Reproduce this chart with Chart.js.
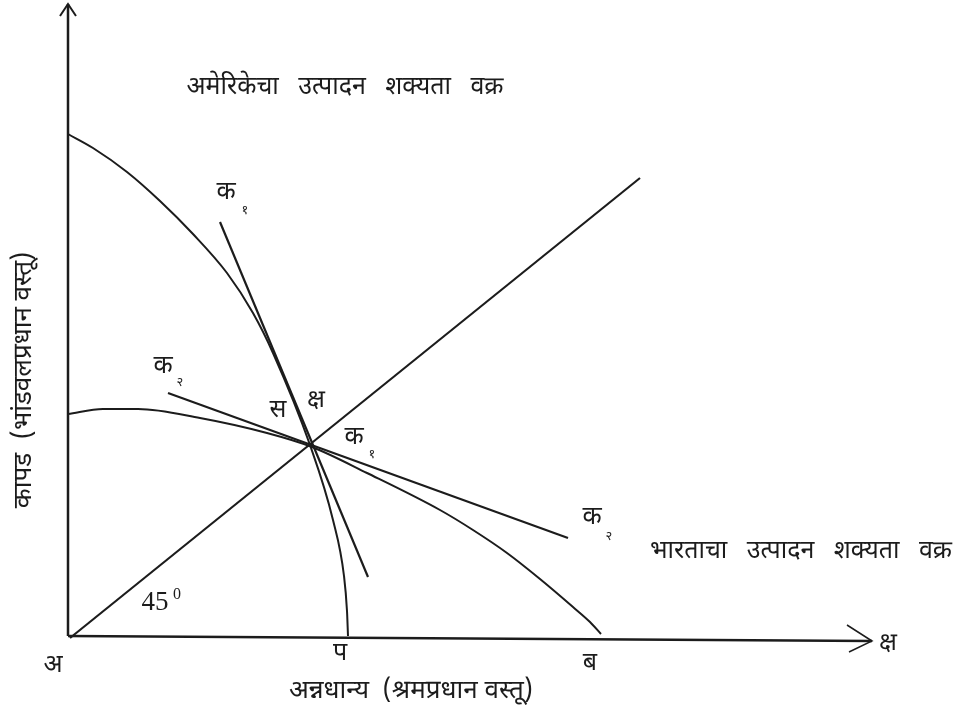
<!DOCTYPE html>
<html>
<head>
<meta charset="utf-8">
<script src="https://cdn.jsdelivr.net/npm/chart.js"></script>
<style>
  html, body { margin: 0; padding: 0; background: #fff; }
  canvas { display: block; }
</style>
</head>
<body>
<canvas id="chart" width="960" height="718"></canvas>
<script>
// origin (अ) = 0,0 ; units roughly one pixel
const americaPPF = [[0,502],[25,488],[59,464],[92,435],[125,402],[159,363],[185,323],[205,283],[242,191],[265,116],[276,60],[279,25],[280,0]];
const indiaPPF = [[0,222],[35,227],[70,227],[132,218],[199,203],[244,189],[299,163],[372,126],[405,106],[439,83],[472,57],[505,29],[522,14],[533,2]];
const lineK1 = [[152,414],[300,59]];
const lineK2 = [[100,243],[500,98]];
const ray45 = [[2,-2],[572,458]];
const axisY = [[0,0],[0,632]];
const axisX = [[0,0],[804,-5]];
const arrowY = [[-8,620],[0,632],[8,620]];
const arrowX = [[779,11],[804,-5],[781,-16]];

// text labels: [text, x, y, size]
const labels = [
  ['अमेरिकेचा   उत्पादन   शक्यता   वक्र', 277, 547, 25],
  ['भारताचा   उत्पादन   शक्यता   वक्र', 733, 83, 25],
  ['क', 158, 442, 25], ['१', 177, 424, 13],
  ['क', 95, 268, 25], ['२', 112, 252, 13],
  ['स', 210, 224, 25],
  ['क्ष', 248, 234, 25],
  ['क', 286, 197, 25], ['१', 304, 180, 13],
  ['क', 524, 117, 25], ['२', 541, 98, 13],
  ['अ', -15, -31, 25],
  ['प', 272, -19, 25],
  ['ब', 522, -29, 25],
  ['क्ष', 820, -9, 25],
  ['अन्नधान्य  (श्रमप्रधान वस्तू)', 343, -57, 26]
];
const yTitle = ['कापड  (भांडवलप्रधान वस्तू)', -42, 256, 26];
const angleLabel = ['45', 87, 33, 27];

const pts = a => a.map(p => ({ x: p[0], y: p[1] }));
const ink = '#1c1c1c';

function ds(arr, w, smooth) {
  return {
    data: pts(arr), showLine: true, pointRadius: 0, borderColor: ink,
    borderWidth: w, fill: false,
    cubicInterpolationMode: smooth ? 'monotone' : 'default', tension: smooth ? 0.4 : 0
  };
}

const textPlugin = {
  id: 'textLabels',
  afterDatasetsDraw(chart) {
    const { ctx, scales: { x, y } } = chart;
    const sans = '"Noto Sans Devanagari", "Lohit Devanagari", "Noto Sans", sans-serif';
    ctx.save();
    ctx.fillStyle = ink;
    ctx.textAlign = 'center';
    ctx.textBaseline = 'middle';
    labels.forEach(([t, vx, vy, s]) => {
      ctx.font = s + 'px ' + sans;
      ctx.fillText(t, x.getPixelForValue(vx), y.getPixelForValue(vy));
    });
    // y title rotated
    ctx.save();
    ctx.translate(x.getPixelForValue(yTitle[1]), y.getPixelForValue(yTitle[2]));
    ctx.rotate(-Math.PI / 2);
    ctx.font = yTitle[3] + 'px ' + sans;
    ctx.fillText(yTitle[0], 0, 0);
    ctx.restore();
    // 45 degree mark
    ctx.font = angleLabel[3] + 'px "Liberation Serif", serif';
    const ax = x.getPixelForValue(angleLabel[1]), ay = y.getPixelForValue(angleLabel[2]);
    ctx.fillText(angleLabel[0], ax, ay);
    ctx.font = '16px "Liberation Serif", serif';
    ctx.fillText('0', ax + 22, ay - 8);
    ctx.restore();
  }
};

new Chart(document.getElementById('chart'), {
  type: 'scatter',
  data: {
    datasets: [
      ds(axisY, 2.5), ds(axisX, 2.5), ds(arrowY, 2), ds(arrowX, 1.5),
      ds(americaPPF, 2, true), ds(indiaPPF, 2, true),
      ds(lineK1, 2.2), ds(lineK2, 2.2), ds(ray45, 2.2)
    ]
  },
  options: {
    responsive: false,
    animation: false,
    events: [],
    layout: { padding: 0 },
    plugins: { legend: { display: false }, tooltip: { enabled: false }, title: { display: false } },
    scales: {
      x: { type: 'linear', min: -68, max: 892, display: false },
      y: { type: 'linear', min: -82, max: 636, display: false }
    }
  },
  plugins: [textPlugin]
});
</script>
</body>
</html>
